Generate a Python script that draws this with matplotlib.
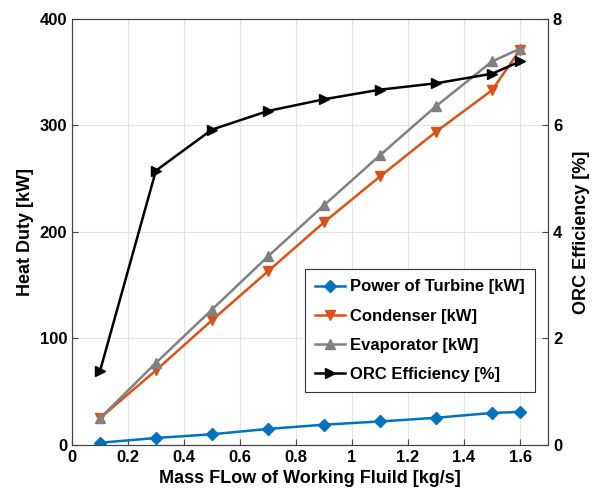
import matplotlib.pyplot as plt

plt.rcParams['font.family'] = ['Liberation Sans', 'DejaVu Sans']
plt.rcParams['font.weight'] = 'bold'

# mass flow of working fluid [kg/s]
mass_flow = [0.1, 0.3, 0.5, 0.7, 0.9, 1.1, 1.3, 1.5, 1.6]

turbine = [2, 6.5, 10, 15, 19, 22, 25.5, 30, 31]
condenser = [25, 70, 117, 163, 209, 252, 294, 333, 371]
evaporator = [25, 77, 127, 177, 225, 272, 318, 360, 372]
orc_eff = [1.38, 5.15, 5.92, 6.27, 6.49, 6.67, 6.79, 6.97, 7.2]

x_ticks = [0, 0.2, 0.4, 0.6, 0.8, 1, 1.2, 1.4, 1.6]
x_ticklabels = ['0', '0.2', '0.4', '0.6', '0.8', '1', '1.2', '1.4', '1.6']

fig = plt.figure(figsize=(5.99, 4.96), dpi=100)
ax = fig.add_axes([0.120, 0.103, 0.795, 0.859])
ax2 = ax.twinx()

l1, = ax.plot(mass_flow, turbine, color='#0072BD', marker='D', ms=6, lw=1.8,
              label='Power of Turbine [kW]')
l2, = ax.plot(mass_flow, condenser, color='#D95319', marker='v', ms=7, lw=1.8,
              label='Condenser [kW]')
l3, = ax.plot(mass_flow, evaporator, color='#808080', marker='^', ms=7, lw=1.8,
              label='Evaporator [kW]')
l4, = ax2.plot(mass_flow, orc_eff, color='black', marker='>', ms=7, lw=1.8,
               label='ORC Efficiency [%]')

ax.set_xlim(0, 1.7)
ax.set_ylim(0, 400)
ax2.set_ylim(0, 8)
ax.set_xticks(x_ticks)
ax.set_xticklabels(x_ticklabels)
ax.set_yticks([0, 100, 200, 300, 400])
ax2.set_yticks([0, 2, 4, 6, 8])

ax.grid(True, color='#e3e3e3', lw=0.8)
ax.set_axisbelow(True)

for a in (ax, ax2):
    a.tick_params(direction='in', labelsize=12, length=4, color='#444444')
    for s in a.spines.values():
        s.set_color('#444444')

ax.set_xlabel('Mass FLow of Working Fluild [kg/s]', fontsize=13, fontweight='bold')
ax.set_ylabel('Heat Duty [kW]', fontsize=13, fontweight='bold')
ax2.set_ylabel('ORC Efficiency [%]', fontsize=13, fontweight='bold', labelpad=8)

# legend abajo a la derecha, como en el original
leg = ax2.legend(handles=[l1, l2, l3, l4], loc='lower right',
                 bbox_to_anchor=(0.99, 0.105), fontsize=12, fancybox=False,
                 framealpha=1, edgecolor='#333333', handlelength=1.8,
                 handletextpad=0.3, borderpad=0.6, labelspacing=0.85)
leg.get_frame().set_linewidth(0.8)

plt.savefig('out.png', dpi=100)
plt.close()
